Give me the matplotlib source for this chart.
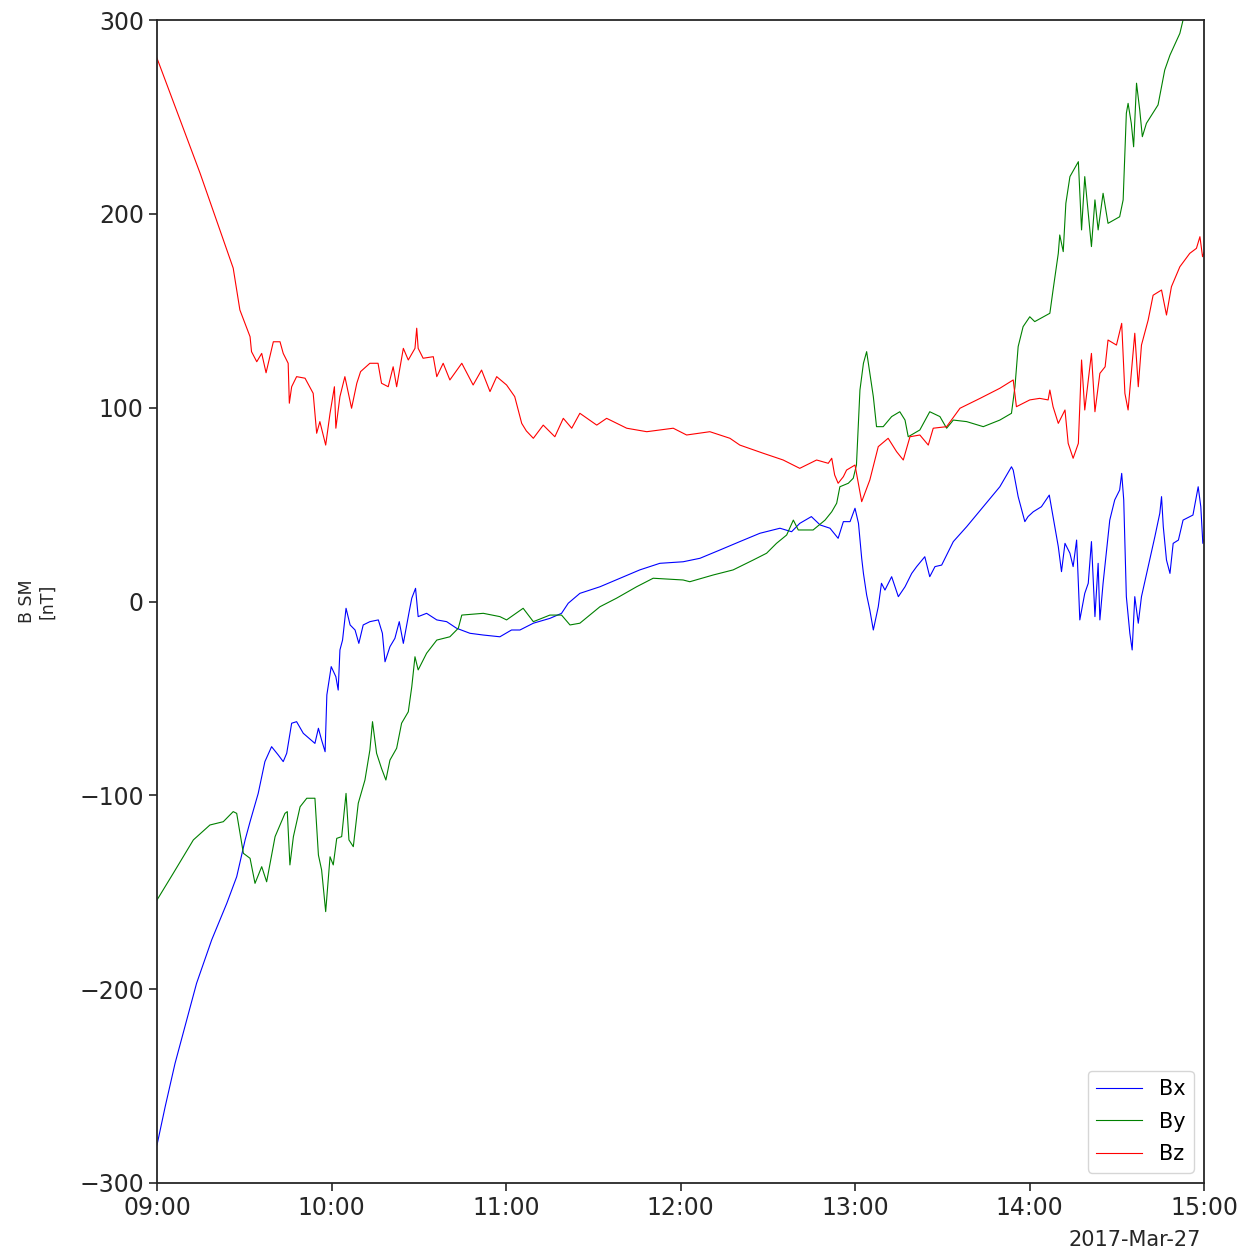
import numpy as np
import pandas as pd
import matplotlib
matplotlib.use("Agg")
import matplotlib.pyplot as plt
import matplotlib.dates as mdates

# Minutes after 09:00 UT and field values in nT (SM coordinates)
bx_t = [0, 2.8, 6.2, 9.6, 13.6, 18.8, 24, 27.4, 30.3, 32, 34.8, 37.1, 39.4, 41.7, 43.4, 44.6,
        46.3, 48, 50.3, 54.3, 55.5, 56.6, 57.8, 58.4, 59.9, 61.5, 62.3, 62.9, 63.8, 65, 66.4,
        68.1, 69.4, 70.9, 73.2, 76.1, 77.5, 78.4, 80.1, 81.8, 83.3, 84.7, 86.7, 87.6, 88.9,
        89.8, 92.7, 96.2, 99.6, 103, 107.6, 112.2, 117.9, 121.9, 124.8, 129.4, 135.1, 139.1,
        141.4, 145.4, 152.3, 159.2, 166, 172.9, 180.9, 186.7, 193.6, 200.4, 207.3, 214.2,
        218.2, 221, 225, 228, 231.4, 234.2, 236, 238.3, 240, 241.2, 242.3, 242.9, 244, 245.1,
        246.3, 248, 249.1, 250.3, 252.6, 254.9, 257.2, 259.5, 261.2, 264, 265.7, 267.5, 269.8,
        273.8, 278.4, 284.1, 289.8, 293.8, 294.4, 296.1, 298.4, 299.5, 301.3, 304.1, 306.8,
        308.1, 309.9, 311, 312.2, 313.9, 315, 316.2, 317.3, 319, 320.2, 321.3, 322.5, 323.6,
        324.2, 325.3, 327.6, 329.3, 331, 331.7, 332.4, 333.3, 334.5, 335.3, 336.2, 337.4,
        338.5, 340.8, 343.1, 344.8, 345.4, 346, 347.1, 348.3, 349.4, 351.2, 352.8, 355.1,
        356.2, 358, 358.9, 359.6, 360]
bx_v = [-280.4, -260.7, -238.3, -219.4, -197, -174.6, -155.7, -142, -123, -113.6, -99, -82.6,
        -74.9, -79.2, -82.6, -78.3, -62.8, -62, -68, -73.2, -65.4, -71.5, -77.5, -48.2, -33.6,
        -38.8, -45.7, -25, -19.9, -3.5, -12.1, -14.7, -21.6, -12.1, -10.4, -9.5, -16.4, -31.1,
        -23.3, -19, -10.4, -21.6, -5.3, 1.7, 6.8, -7.8, -6.1, -9.5, -10.4, -13.8, -16.4, -17.3,
        -18.2, -14.7, -14.7, -11.2, -8.7, -6.1, -0.9, 4.2, 7.6, 12, 16.3, 19.7, 20.5, 22.3,
        26.6, 30.9, 35.2, 37.8, 36, 40.3, 43.8, 39.5, 37.8, 32.6, 41.2, 41.2, 48.1, 40.3, 22.3,
        14.5, 3.4, -4.4, -14.7, -2.7, 9.4, 5.9, 12.8, 2.5, 7.6, 14.5, 18, 23.1, 12.8, 18, 18.8,
        30.9, 38.6, 48.9, 59.2, 69.5, 67.8, 54.1, 41.2, 43.8, 46.3, 48.9, 54.9, 43.8, 28.3,
        15.4, 30, 24.9, 18, 31.7, -9.5, 4.2, 9.4, 30.9, -7.8, 19.7, -9.5, 9.4, 42, 52.4, 57.5,
        66.1, 52.4, 2.5, -16.4, -25, 2.5, -11.2, 2.5, 18, 33.4, 45.5, 54.1, 38.6, 21.4, 14.5,
        30, 31.7, 42, 43.8, 44.6, 59.2, 48.9, 30, 32]

by_t = [0, 5.6, 12.5, 18.2, 22.8, 26.2, 27.4, 29.7, 32, 33.7, 36, 37.7, 40.6, 44, 44.8, 45.7,
        46.9, 49.2, 51.5, 54.3, 55.5, 56.6, 58, 59.5, 60.6, 61.8, 63.5, 65, 66, 67.5, 69.2,
        71.5, 73.2, 74.1, 75.5, 77.2, 78.7, 80.1, 82.4, 84.1, 86.4, 87.6, 88.7, 89.8, 92.7,
        96.2, 100.7, 103.6, 104.8, 112.2, 117.9, 120.2, 125.9, 129.4, 135.1, 139.1, 142,
        145.4, 152.3, 158, 164.9, 170.6, 180.9, 183.2, 191.3, 198.1, 205, 209.6, 213, 216.5,
        218.8, 220.5, 225.6, 229.7, 232, 233.7, 234.8, 237.7, 239.4, 240.5, 241.7, 242.9, 244,
        245.1, 246.3, 247.4, 249.7, 252.6, 255.4, 257.2, 258.3, 262.3, 265.7, 269.2, 271.5,
        273.8, 278.4, 284.1, 289.8, 293.8, 295, 296.1, 297.8, 300.1, 301.8, 307, 308.1, 309.9,
        310.4, 311.6, 312.5, 313.9, 316.8, 317.9, 319, 321.3, 322.5, 323.6, 325.3, 327, 331,
        332.2, 333.3, 333.9, 335, 335.8, 336.8, 337.9, 338.8, 340.2, 344.2, 346.5, 348.3,
        351.7, 352.8, 356, 360]
by_v = [-154, -140.2, -123, -115.3, -113.6, -108.4, -109.3, -129.9, -132.5, -145.4, -136.8,
        -144.6, -121.3, -109.3, -108.4, -135.9, -121.3, -105.9, -101.5, -101.5, -130.8, -138.5,
        -160, -131.7, -135.9, -122.2, -121.3, -99, -123, -126.5, -104.1, -92.1, -76.6, -62,
        -78.3, -86.1, -92.1, -81.8, -75.7, -62.8, -56.9, -44, -28.5, -35.3, -26.7, -19.9,
        -18.2, -13.8, -7, -6.1, -7.8, -9.5, -3.5, -10.4, -7, -7, -12.1, -11.2, -2.7, 1.7, 7.6,
        12, 11.1, 10.2, 13.7, 16.3, 21.4, 24.9, 30, 34.3, 42, 36.9, 36.9, 42, 46.3, 50.7, 59.2,
        61, 63.6, 70.4, 109.1, 122.9, 128.9, 117.7, 105.7, 90.2, 90.2, 95.4, 97.9, 93.6, 85,
        88.5, 97.9, 95.4, 89.4, 93.6, 92.8, 90.2, 93.6, 97.1, 110.8, 131.5, 141.8, 146.9,
        144.4, 148.7, 160.7, 179.6, 189.1, 180.5, 205.4, 219.2, 226.9, 191.7, 219.2, 183.1,
        207.2, 191.7, 210.6, 195.1, 198.5, 207.2, 251.9, 257, 246.7, 234.6, 267.4, 253.6,
        239.8, 246.7, 256.2, 274.2, 281.9, 293.1, 300, 308, 316]

bz_t = [0, 14.8, 26.2, 28.5, 32, 32.5, 34.3, 36, 37.5, 40, 42.3, 43.4, 45.1, 45.5, 46.3, 48,
        50.9, 53.7, 54.9, 56, 58, 59.5, 61, 61.5, 62.9, 64.6, 66.9, 68.7, 70, 73.2, 76, 77.2,
        79.5, 81.2, 82.4, 84.7, 86.4, 88.7, 89.3, 89.8, 91.5, 95, 96.2, 98.4, 100.7, 104.8,
        108.7, 111.6, 114.5, 116.8, 120.2, 123, 125.4, 127, 129.4, 132.8, 136.8, 139.7, 142.6,
        145.4, 151.2, 154.6, 161.5, 168.4, 177.5, 182.1, 190.1, 197, 200.4, 208.4, 215.3, 221,
        226.8, 230.8, 232, 233, 234.2, 236, 237.1, 240, 242.3, 245.1, 248, 251.4, 254.3, 256.6,
        258.9, 262.3, 265.2, 266.9, 271.5, 276.1, 283, 289.8, 294.4, 295.5, 300.1, 303.5,
        306.4, 307, 308.1, 309.9, 312.2, 313.3, 315, 316.8, 317.9, 319, 321.3, 322.5, 324.2,
        326, 327, 329.9, 331.7, 332.8, 333.9, 336.2, 337.4, 338.5, 340.8, 342.5, 345.4, 347.1,
        348.8, 351.7, 355.1, 357.4, 358.6, 359.5, 360]
bz_v = [280.3, 221, 172, 150.4, 136.6, 128.9, 123.7, 128, 118, 134, 134, 128, 122.9, 102.3,
        110.8, 116, 115.2, 107.4, 86.8, 92.8, 80.7, 97.1, 110.8, 89.4, 105.7, 116, 99.7, 112.6,
        118.6, 122.9, 122.9, 112.6, 110.8, 121.1, 110.8, 130.6, 124.6, 130.6, 141, 130.6,
        125.5, 126.3, 116, 122.9, 114.3, 122.9, 111.7, 119.4, 108.3, 116, 111.7, 105.7, 91.9,
        88, 84.2, 91, 85, 94.5, 89.4, 97.1, 91, 94.5, 89.4, 87.6, 89.4, 85.9, 87.6, 84.2, 80.7,
        76.5, 73, 68.7, 73, 71.3, 73.9, 65.3, 61, 64.4, 67.8, 70.4, 51.5, 62.7, 79.9, 84.2,
        77.3, 73, 85, 85.9, 80.7, 89.4, 90.2, 99.7, 104.8, 110, 114.3, 100.5, 104, 104.8, 104,
        109.1, 100.5, 91.9, 98.8, 81.6, 73.9, 81.6, 124.6, 98.8, 128, 97.9, 117.7, 121.1,
        134.9, 132.3, 143.5, 107.4, 98.8, 138.4, 110.8, 132.3, 145.2, 158, 160.7, 147.8, 162.4,
        172.7, 179.6, 182.2, 188.2, 177.9, 180]

y_ticks = [-300, -200, -100, 0, 100, 200, 300]
date_label = "2017-Mar-27"
series = [("Bx", bx_t, bx_v, "#0000ff"),
          ("By", by_t, by_v, "#008000"),
          ("Bz", bz_t, bz_v, "#ff0000")]

t0 = pd.Timestamp("2017-03-27 09:00:00")
t1 = pd.Timestamp("2017-03-27 15:00:00")


def to_time(minutes):
    return t0 + pd.to_timedelta(np.asarray(minutes, dtype=float), unit="m")


fig = plt.figure(figsize=(12.57, 12.52), dpi=100)
ax = fig.add_axes([157 / 1257, 69 / 1252, 1047 / 1257, 1163 / 1252])

for name, t, v, c in series:
    ax.plot(to_time(t), v, color=c, lw=0.8, label=name)

ax.set_xlim(t0, t1)
ax.set_ylim(-300, 300)
ax.set_yticks(y_ticks)
ax.xaxis.set_major_locator(mdates.HourLocator())
ax.xaxis.set_major_formatter(mdates.DateFormatter("%H:%M"))
ax.tick_params(axis="both", labelsize=17, length=6, width=1.2, colors="#262626")
for s in ax.spines.values():
    s.set_linewidth(1.3)
    s.set_color("#262626")

ax.legend(loc="lower right", fontsize=15, handlelength=2.2, labelspacing=0.6)

fig.text(37 / 1257, 1 - 601.5 / 1252, "B SM\n[nT]", rotation=90, ha="center",
         va="center", fontsize=12.5, multialignment="center", color="#262626")
fig.text(1201 / 1257, 1 - 1240 / 1252, date_label, ha="right", va="center",
         fontsize=15, color="#262626")

fig.savefig("out.png", dpi=100)
